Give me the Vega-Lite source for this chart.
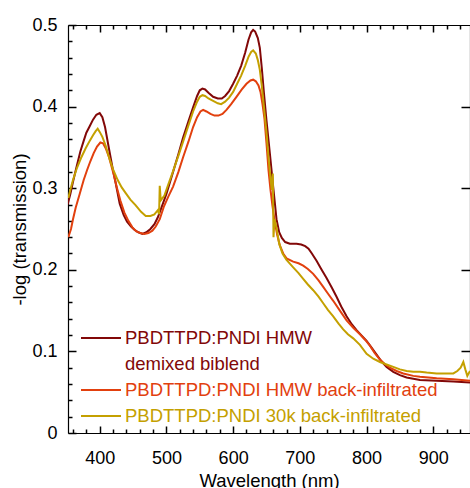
{
 "$schema": "https://vega.github.io/schema/vega-lite/v6.json",
 "width": 402, "height": 408,
 "autosize": {"type": "none"},
 "padding": {"left": 68, "top": 25, "right": 0, "bottom": 55},
 "config": {
  "font": "Liberation Sans",
  "view": {"stroke": null},
  "axis": {"domainColor": "black", "tickColor": "black", "labelColor": "black", "titleColor": "black", "grid": false, "labelOverlap": false, "labelFlush": false, "tickWidth": 1.5, "domainWidth": 1.2, "labelFontSize": 18, "titleFontSize": 18.5, "titleFontWeight": "normal", "labelFont": "Liberation Sans", "titleFont": "Liberation Sans"}
 },
 "datasets": {
  "spectra": [
   {"s":"PBDTTPD:PNDI HMW demixed biblend","wl":352,"a":0.280},{"s":"PBDTTPD:PNDI HMW demixed biblend","wl":356,"a":0.293},{"s":"PBDTTPD:PNDI HMW demixed biblend","wl":360,"a":0.308},{"s":"PBDTTPD:PNDI HMW demixed biblend","wl":365,"a":0.325},{"s":"PBDTTPD:PNDI HMW demixed biblend","wl":371,"a":0.345},{"s":"PBDTTPD:PNDI HMW demixed biblend","wl":376,"a":0.358},{"s":"PBDTTPD:PNDI HMW demixed biblend","wl":380,"a":0.368},{"s":"PBDTTPD:PNDI HMW demixed biblend","wl":385,"a":0.376},{"s":"PBDTTPD:PNDI HMW demixed biblend","wl":390,"a":0.384},{"s":"PBDTTPD:PNDI HMW demixed biblend","wl":395,"a":0.390},{"s":"PBDTTPD:PNDI HMW demixed biblend","wl":400,"a":0.392},{"s":"PBDTTPD:PNDI HMW demixed biblend","wl":404,"a":0.387},{"s":"PBDTTPD:PNDI HMW demixed biblend","wl":408,"a":0.375},{"s":"PBDTTPD:PNDI HMW demixed biblend","wl":414,"a":0.348},{"s":"PBDTTPD:PNDI HMW demixed biblend","wl":419,"a":0.326},{"s":"PBDTTPD:PNDI HMW demixed biblend","wl":424,"a":0.306},{"s":"PBDTTPD:PNDI HMW demixed biblend","wl":430,"a":0.281},{"s":"PBDTTPD:PNDI HMW demixed biblend","wl":436,"a":0.267},{"s":"PBDTTPD:PNDI HMW demixed biblend","wl":441,"a":0.259},{"s":"PBDTTPD:PNDI HMW demixed biblend","wl":447,"a":0.253},{"s":"PBDTTPD:PNDI HMW demixed biblend","wl":452,"a":0.249},{"s":"PBDTTPD:PNDI HMW demixed biblend","wl":458,"a":0.246},{"s":"PBDTTPD:PNDI HMW demixed biblend","wl":464,"a":0.244},{"s":"PBDTTPD:PNDI HMW demixed biblend","wl":470,"a":0.246},{"s":"PBDTTPD:PNDI HMW demixed biblend","wl":476,"a":0.250},{"s":"PBDTTPD:PNDI HMW demixed biblend","wl":482,"a":0.256},{"s":"PBDTTPD:PNDI HMW demixed biblend","wl":487,"a":0.264},{"s":"PBDTTPD:PNDI HMW demixed biblend","wl":492,"a":0.275},{"s":"PBDTTPD:PNDI HMW demixed biblend","wl":500,"a":0.293},{"s":"PBDTTPD:PNDI HMW demixed biblend","wl":510,"a":0.320},{"s":"PBDTTPD:PNDI HMW demixed biblend","wl":518,"a":0.342},{"s":"PBDTTPD:PNDI HMW demixed biblend","wl":525,"a":0.362},{"s":"PBDTTPD:PNDI HMW demixed biblend","wl":533,"a":0.382},{"s":"PBDTTPD:PNDI HMW demixed biblend","wl":540,"a":0.399},{"s":"PBDTTPD:PNDI HMW demixed biblend","wl":546,"a":0.413},{"s":"PBDTTPD:PNDI HMW demixed biblend","wl":550,"a":0.420},{"s":"PBDTTPD:PNDI HMW demixed biblend","wl":554,"a":0.422},{"s":"PBDTTPD:PNDI HMW demixed biblend","wl":558,"a":0.421},{"s":"PBDTTPD:PNDI HMW demixed biblend","wl":563,"a":0.417},{"s":"PBDTTPD:PNDI HMW demixed biblend","wl":570,"a":0.412},{"s":"PBDTTPD:PNDI HMW demixed biblend","wl":577,"a":0.410},{"s":"PBDTTPD:PNDI HMW demixed biblend","wl":583,"a":0.410},{"s":"PBDTTPD:PNDI HMW demixed biblend","wl":588,"a":0.413},{"s":"PBDTTPD:PNDI HMW demixed biblend","wl":594,"a":0.419},{"s":"PBDTTPD:PNDI HMW demixed biblend","wl":600,"a":0.428},{"s":"PBDTTPD:PNDI HMW demixed biblend","wl":606,"a":0.438},{"s":"PBDTTPD:PNDI HMW demixed biblend","wl":612,"a":0.450},{"s":"PBDTTPD:PNDI HMW demixed biblend","wl":618,"a":0.466},{"s":"PBDTTPD:PNDI HMW demixed biblend","wl":623,"a":0.482},{"s":"PBDTTPD:PNDI HMW demixed biblend","wl":627,"a":0.491},{"s":"PBDTTPD:PNDI HMW demixed biblend","wl":630,"a":0.494},{"s":"PBDTTPD:PNDI HMW demixed biblend","wl":633,"a":0.492},{"s":"PBDTTPD:PNDI HMW demixed biblend","wl":637,"a":0.484},{"s":"PBDTTPD:PNDI HMW demixed biblend","wl":640,"a":0.472},{"s":"PBDTTPD:PNDI HMW demixed biblend","wl":643,"a":0.447},{"s":"PBDTTPD:PNDI HMW demixed biblend","wl":646,"a":0.418},{"s":"PBDTTPD:PNDI HMW demixed biblend","wl":650,"a":0.383},{"s":"PBDTTPD:PNDI HMW demixed biblend","wl":655,"a":0.343},{"s":"PBDTTPD:PNDI HMW demixed biblend","wl":660,"a":0.302},{"s":"PBDTTPD:PNDI HMW demixed biblend","wl":665,"a":0.262},{"s":"PBDTTPD:PNDI HMW demixed biblend","wl":669,"a":0.246},{"s":"PBDTTPD:PNDI HMW demixed biblend","wl":673,"a":0.239},{"s":"PBDTTPD:PNDI HMW demixed biblend","wl":678,"a":0.234},{"s":"PBDTTPD:PNDI HMW demixed biblend","wl":685,"a":0.232},{"s":"PBDTTPD:PNDI HMW demixed biblend","wl":695,"a":0.232},{"s":"PBDTTPD:PNDI HMW demixed biblend","wl":702,"a":0.231},{"s":"PBDTTPD:PNDI HMW demixed biblend","wl":708,"a":0.229},{"s":"PBDTTPD:PNDI HMW demixed biblend","wl":713,"a":0.226},{"s":"PBDTTPD:PNDI HMW demixed biblend","wl":718,"a":0.220},{"s":"PBDTTPD:PNDI HMW demixed biblend","wl":725,"a":0.211},{"s":"PBDTTPD:PNDI HMW demixed biblend","wl":732,"a":0.201},{"s":"PBDTTPD:PNDI HMW demixed biblend","wl":740,"a":0.190},{"s":"PBDTTPD:PNDI HMW demixed biblend","wl":748,"a":0.178},{"s":"PBDTTPD:PNDI HMW demixed biblend","wl":755,"a":0.167},{"s":"PBDTTPD:PNDI HMW demixed biblend","wl":762,"a":0.155},{"s":"PBDTTPD:PNDI HMW demixed biblend","wl":770,"a":0.143},{"s":"PBDTTPD:PNDI HMW demixed biblend","wl":778,"a":0.133},{"s":"PBDTTPD:PNDI HMW demixed biblend","wl":785,"a":0.126},{"s":"PBDTTPD:PNDI HMW demixed biblend","wl":793,"a":0.119},{"s":"PBDTTPD:PNDI HMW demixed biblend","wl":800,"a":0.113},{"s":"PBDTTPD:PNDI HMW demixed biblend","wl":808,"a":0.104},{"s":"PBDTTPD:PNDI HMW demixed biblend","wl":815,"a":0.096},{"s":"PBDTTPD:PNDI HMW demixed biblend","wl":822,"a":0.088},{"s":"PBDTTPD:PNDI HMW demixed biblend","wl":830,"a":0.081},{"s":"PBDTTPD:PNDI HMW demixed biblend","wl":840,"a":0.075},{"s":"PBDTTPD:PNDI HMW demixed biblend","wl":850,"a":0.071},{"s":"PBDTTPD:PNDI HMW demixed biblend","wl":860,"a":0.068},{"s":"PBDTTPD:PNDI HMW demixed biblend","wl":880,"a":0.065},{"s":"PBDTTPD:PNDI HMW demixed biblend","wl":905,"a":0.064},{"s":"PBDTTPD:PNDI HMW demixed biblend","wl":930,"a":0.063},{"s":"PBDTTPD:PNDI HMW demixed biblend","wl":955,"a":0.062},
   {"s":"PBDTTPD:PNDI HMW back-infiltrated","wl":353,"a":0.240},{"s":"PBDTTPD:PNDI HMW back-infiltrated","wl":357,"a":0.250},{"s":"PBDTTPD:PNDI HMW back-infiltrated","wl":360,"a":0.262},{"s":"PBDTTPD:PNDI HMW back-infiltrated","wl":364,"a":0.276},{"s":"PBDTTPD:PNDI HMW back-infiltrated","wl":370,"a":0.293},{"s":"PBDTTPD:PNDI HMW back-infiltrated","wl":376,"a":0.310},{"s":"PBDTTPD:PNDI HMW back-infiltrated","wl":381,"a":0.322},{"s":"PBDTTPD:PNDI HMW back-infiltrated","wl":386,"a":0.333},{"s":"PBDTTPD:PNDI HMW back-infiltrated","wl":391,"a":0.343},{"s":"PBDTTPD:PNDI HMW back-infiltrated","wl":396,"a":0.351},{"s":"PBDTTPD:PNDI HMW back-infiltrated","wl":401,"a":0.356},{"s":"PBDTTPD:PNDI HMW back-infiltrated","wl":405,"a":0.355},{"s":"PBDTTPD:PNDI HMW back-infiltrated","wl":409,"a":0.349},{"s":"PBDTTPD:PNDI HMW back-infiltrated","wl":414,"a":0.338},{"s":"PBDTTPD:PNDI HMW back-infiltrated","wl":420,"a":0.320},{"s":"PBDTTPD:PNDI HMW back-infiltrated","wl":426,"a":0.300},{"s":"PBDTTPD:PNDI HMW back-infiltrated","wl":431,"a":0.285},{"s":"PBDTTPD:PNDI HMW back-infiltrated","wl":437,"a":0.270},{"s":"PBDTTPD:PNDI HMW back-infiltrated","wl":443,"a":0.260},{"s":"PBDTTPD:PNDI HMW back-infiltrated","wl":449,"a":0.252},{"s":"PBDTTPD:PNDI HMW back-infiltrated","wl":455,"a":0.247},{"s":"PBDTTPD:PNDI HMW back-infiltrated","wl":461,"a":0.245},{"s":"PBDTTPD:PNDI HMW back-infiltrated","wl":467,"a":0.244},{"s":"PBDTTPD:PNDI HMW back-infiltrated","wl":473,"a":0.245},{"s":"PBDTTPD:PNDI HMW back-infiltrated","wl":479,"a":0.248},{"s":"PBDTTPD:PNDI HMW back-infiltrated","wl":484,"a":0.253},{"s":"PBDTTPD:PNDI HMW back-infiltrated","wl":490,"a":0.262},{"s":"PBDTTPD:PNDI HMW back-infiltrated","wl":496,"a":0.277},{"s":"PBDTTPD:PNDI HMW back-infiltrated","wl":503,"a":0.290},{"s":"PBDTTPD:PNDI HMW back-infiltrated","wl":510,"a":0.302},{"s":"PBDTTPD:PNDI HMW back-infiltrated","wl":518,"a":0.320},{"s":"PBDTTPD:PNDI HMW back-infiltrated","wl":525,"a":0.338},{"s":"PBDTTPD:PNDI HMW back-infiltrated","wl":533,"a":0.357},{"s":"PBDTTPD:PNDI HMW back-infiltrated","wl":540,"a":0.375},{"s":"PBDTTPD:PNDI HMW back-infiltrated","wl":546,"a":0.387},{"s":"PBDTTPD:PNDI HMW back-infiltrated","wl":551,"a":0.394},{"s":"PBDTTPD:PNDI HMW back-infiltrated","wl":555,"a":0.396},{"s":"PBDTTPD:PNDI HMW back-infiltrated","wl":560,"a":0.394},{"s":"PBDTTPD:PNDI HMW back-infiltrated","wl":566,"a":0.391},{"s":"PBDTTPD:PNDI HMW back-infiltrated","wl":572,"a":0.389},{"s":"PBDTTPD:PNDI HMW back-infiltrated","wl":578,"a":0.389},{"s":"PBDTTPD:PNDI HMW back-infiltrated","wl":584,"a":0.391},{"s":"PBDTTPD:PNDI HMW back-infiltrated","wl":590,"a":0.396},{"s":"PBDTTPD:PNDI HMW back-infiltrated","wl":597,"a":0.403},{"s":"PBDTTPD:PNDI HMW back-infiltrated","wl":605,"a":0.412},{"s":"PBDTTPD:PNDI HMW back-infiltrated","wl":613,"a":0.421},{"s":"PBDTTPD:PNDI HMW back-infiltrated","wl":620,"a":0.428},{"s":"PBDTTPD:PNDI HMW back-infiltrated","wl":626,"a":0.432},{"s":"PBDTTPD:PNDI HMW back-infiltrated","wl":630,"a":0.433},{"s":"PBDTTPD:PNDI HMW back-infiltrated","wl":634,"a":0.431},{"s":"PBDTTPD:PNDI HMW back-infiltrated","wl":638,"a":0.426},{"s":"PBDTTPD:PNDI HMW back-infiltrated","wl":641,"a":0.418},{"s":"PBDTTPD:PNDI HMW back-infiltrated","wl":644,"a":0.403},{"s":"PBDTTPD:PNDI HMW back-infiltrated","wl":647,"a":0.385},{"s":"PBDTTPD:PNDI HMW back-infiltrated","wl":650,"a":0.355},{"s":"PBDTTPD:PNDI HMW back-infiltrated","wl":653,"a":0.322},{"s":"PBDTTPD:PNDI HMW back-infiltrated","wl":656,"a":0.298},{"s":"PBDTTPD:PNDI HMW back-infiltrated","wl":659,"a":0.278},{"s":"PBDTTPD:PNDI HMW back-infiltrated","wl":662,"a":0.261},{"s":"PBDTTPD:PNDI HMW back-infiltrated","wl":666,"a":0.243},{"s":"PBDTTPD:PNDI HMW back-infiltrated","wl":670,"a":0.230},{"s":"PBDTTPD:PNDI HMW back-infiltrated","wl":675,"a":0.220},{"s":"PBDTTPD:PNDI HMW back-infiltrated","wl":680,"a":0.214},{"s":"PBDTTPD:PNDI HMW back-infiltrated","wl":690,"a":0.210},{"s":"PBDTTPD:PNDI HMW back-infiltrated","wl":698,"a":0.208},{"s":"PBDTTPD:PNDI HMW back-infiltrated","wl":705,"a":0.205},{"s":"PBDTTPD:PNDI HMW back-infiltrated","wl":712,"a":0.201},{"s":"PBDTTPD:PNDI HMW back-infiltrated","wl":720,"a":0.195},{"s":"PBDTTPD:PNDI HMW back-infiltrated","wl":728,"a":0.187},{"s":"PBDTTPD:PNDI HMW back-infiltrated","wl":735,"a":0.179},{"s":"PBDTTPD:PNDI HMW back-infiltrated","wl":742,"a":0.171},{"s":"PBDTTPD:PNDI HMW back-infiltrated","wl":750,"a":0.162},{"s":"PBDTTPD:PNDI HMW back-infiltrated","wl":760,"a":0.150},{"s":"PBDTTPD:PNDI HMW back-infiltrated","wl":770,"a":0.138},{"s":"PBDTTPD:PNDI HMW back-infiltrated","wl":780,"a":0.129},{"s":"PBDTTPD:PNDI HMW back-infiltrated","wl":790,"a":0.121},{"s":"PBDTTPD:PNDI HMW back-infiltrated","wl":798,"a":0.114},{"s":"PBDTTPD:PNDI HMW back-infiltrated","wl":805,"a":0.107},{"s":"PBDTTPD:PNDI HMW back-infiltrated","wl":812,"a":0.098},{"s":"PBDTTPD:PNDI HMW back-infiltrated","wl":820,"a":0.090},{"s":"PBDTTPD:PNDI HMW back-infiltrated","wl":828,"a":0.084},{"s":"PBDTTPD:PNDI HMW back-infiltrated","wl":835,"a":0.080},{"s":"PBDTTPD:PNDI HMW back-infiltrated","wl":845,"a":0.076},{"s":"PBDTTPD:PNDI HMW back-infiltrated","wl":855,"a":0.073},{"s":"PBDTTPD:PNDI HMW back-infiltrated","wl":870,"a":0.070},{"s":"PBDTTPD:PNDI HMW back-infiltrated","wl":880,"a":0.069},{"s":"PBDTTPD:PNDI HMW back-infiltrated","wl":905,"a":0.067},{"s":"PBDTTPD:PNDI HMW back-infiltrated","wl":930,"a":0.066},{"s":"PBDTTPD:PNDI HMW back-infiltrated","wl":955,"a":0.064},
   {"s":"PBDTTPD:PNDI 30k back-infiltrated","wl":353,"a":0.288},{"s":"PBDTTPD:PNDI 30k back-infiltrated","wl":356,"a":0.298},{"s":"PBDTTPD:PNDI 30k back-infiltrated","wl":360,"a":0.310},{"s":"PBDTTPD:PNDI 30k back-infiltrated","wl":366,"a":0.325},{"s":"PBDTTPD:PNDI 30k back-infiltrated","wl":372,"a":0.337},{"s":"PBDTTPD:PNDI 30k back-infiltrated","wl":379,"a":0.349},{"s":"PBDTTPD:PNDI 30k back-infiltrated","wl":385,"a":0.358},{"s":"PBDTTPD:PNDI 30k back-infiltrated","wl":390,"a":0.365},{"s":"PBDTTPD:PNDI 30k back-infiltrated","wl":394,"a":0.370},{"s":"PBDTTPD:PNDI 30k back-infiltrated","wl":397,"a":0.373},{"s":"PBDTTPD:PNDI 30k back-infiltrated","wl":400,"a":0.369},{"s":"PBDTTPD:PNDI 30k back-infiltrated","wl":404,"a":0.363},{"s":"PBDTTPD:PNDI 30k back-infiltrated","wl":409,"a":0.352},{"s":"PBDTTPD:PNDI 30k back-infiltrated","wl":414,"a":0.338},{"s":"PBDTTPD:PNDI 30k back-infiltrated","wl":420,"a":0.323},{"s":"PBDTTPD:PNDI 30k back-infiltrated","wl":427,"a":0.310},{"s":"PBDTTPD:PNDI 30k back-infiltrated","wl":433,"a":0.301},{"s":"PBDTTPD:PNDI 30k back-infiltrated","wl":439,"a":0.294},{"s":"PBDTTPD:PNDI 30k back-infiltrated","wl":446,"a":0.286},{"s":"PBDTTPD:PNDI 30k back-infiltrated","wl":454,"a":0.279},{"s":"PBDTTPD:PNDI 30k back-infiltrated","wl":462,"a":0.271},{"s":"PBDTTPD:PNDI 30k back-infiltrated","wl":469,"a":0.266},{"s":"PBDTTPD:PNDI 30k back-infiltrated","wl":476,"a":0.266},{"s":"PBDTTPD:PNDI 30k back-infiltrated","wl":482,"a":0.268},{"s":"PBDTTPD:PNDI 30k back-infiltrated","wl":487,"a":0.273},{"s":"PBDTTPD:PNDI 30k back-infiltrated","wl":489,"a":0.268},{"s":"PBDTTPD:PNDI 30k back-infiltrated","wl":490,"a":0.303},{"s":"PBDTTPD:PNDI 30k back-infiltrated","wl":491.5,"a":0.285},{"s":"PBDTTPD:PNDI 30k back-infiltrated","wl":497,"a":0.291},{"s":"PBDTTPD:PNDI 30k back-infiltrated","wl":503,"a":0.305},{"s":"PBDTTPD:PNDI 30k back-infiltrated","wl":510,"a":0.321},{"s":"PBDTTPD:PNDI 30k back-infiltrated","wl":518,"a":0.340},{"s":"PBDTTPD:PNDI 30k back-infiltrated","wl":525,"a":0.357},{"s":"PBDTTPD:PNDI 30k back-infiltrated","wl":533,"a":0.377},{"s":"PBDTTPD:PNDI 30k back-infiltrated","wl":540,"a":0.394},{"s":"PBDTTPD:PNDI 30k back-infiltrated","wl":546,"a":0.406},{"s":"PBDTTPD:PNDI 30k back-infiltrated","wl":550,"a":0.412},{"s":"PBDTTPD:PNDI 30k back-infiltrated","wl":554,"a":0.414},{"s":"PBDTTPD:PNDI 30k back-infiltrated","wl":558,"a":0.413},{"s":"PBDTTPD:PNDI 30k back-infiltrated","wl":563,"a":0.410},{"s":"PBDTTPD:PNDI 30k back-infiltrated","wl":570,"a":0.407},{"s":"PBDTTPD:PNDI 30k back-infiltrated","wl":577,"a":0.404},{"s":"PBDTTPD:PNDI 30k back-infiltrated","wl":582,"a":0.403},{"s":"PBDTTPD:PNDI 30k back-infiltrated","wl":588,"a":0.406},{"s":"PBDTTPD:PNDI 30k back-infiltrated","wl":594,"a":0.411},{"s":"PBDTTPD:PNDI 30k back-infiltrated","wl":600,"a":0.418},{"s":"PBDTTPD:PNDI 30k back-infiltrated","wl":606,"a":0.428},{"s":"PBDTTPD:PNDI 30k back-infiltrated","wl":612,"a":0.438},{"s":"PBDTTPD:PNDI 30k back-infiltrated","wl":618,"a":0.450},{"s":"PBDTTPD:PNDI 30k back-infiltrated","wl":623,"a":0.461},{"s":"PBDTTPD:PNDI 30k back-infiltrated","wl":627,"a":0.467},{"s":"PBDTTPD:PNDI 30k back-infiltrated","wl":630,"a":0.469},{"s":"PBDTTPD:PNDI 30k back-infiltrated","wl":634,"a":0.465},{"s":"PBDTTPD:PNDI 30k back-infiltrated","wl":637,"a":0.457},{"s":"PBDTTPD:PNDI 30k back-infiltrated","wl":640,"a":0.445},{"s":"PBDTTPD:PNDI 30k back-infiltrated","wl":643,"a":0.425},{"s":"PBDTTPD:PNDI 30k back-infiltrated","wl":647,"a":0.393},{"s":"PBDTTPD:PNDI 30k back-infiltrated","wl":650,"a":0.368},{"s":"PBDTTPD:PNDI 30k back-infiltrated","wl":653,"a":0.338},{"s":"PBDTTPD:PNDI 30k back-infiltrated","wl":656,"a":0.312},{"s":"PBDTTPD:PNDI 30k back-infiltrated","wl":658,"a":0.298},{"s":"PBDTTPD:PNDI 30k back-infiltrated","wl":659.5,"a":0.318},{"s":"PBDTTPD:PNDI 30k back-infiltrated","wl":660.5,"a":0.240},{"s":"PBDTTPD:PNDI 30k back-infiltrated","wl":662,"a":0.262},{"s":"PBDTTPD:PNDI 30k back-infiltrated","wl":665,"a":0.252},{"s":"PBDTTPD:PNDI 30k back-infiltrated","wl":669,"a":0.232},{"s":"PBDTTPD:PNDI 30k back-infiltrated","wl":674,"a":0.220},{"s":"PBDTTPD:PNDI 30k back-infiltrated","wl":680,"a":0.212},{"s":"PBDTTPD:PNDI 30k back-infiltrated","wl":690,"a":0.203},{"s":"PBDTTPD:PNDI 30k back-infiltrated","wl":698,"a":0.196},{"s":"PBDTTPD:PNDI 30k back-infiltrated","wl":705,"a":0.189},{"s":"PBDTTPD:PNDI 30k back-infiltrated","wl":712,"a":0.182},{"s":"PBDTTPD:PNDI 30k back-infiltrated","wl":720,"a":0.175},{"s":"PBDTTPD:PNDI 30k back-infiltrated","wl":728,"a":0.167},{"s":"PBDTTPD:PNDI 30k back-infiltrated","wl":735,"a":0.159},{"s":"PBDTTPD:PNDI 30k back-infiltrated","wl":742,"a":0.151},{"s":"PBDTTPD:PNDI 30k back-infiltrated","wl":750,"a":0.143},{"s":"PBDTTPD:PNDI 30k back-infiltrated","wl":758,"a":0.134},{"s":"PBDTTPD:PNDI 30k back-infiltrated","wl":765,"a":0.127},{"s":"PBDTTPD:PNDI 30k back-infiltrated","wl":772,"a":0.121},{"s":"PBDTTPD:PNDI 30k back-infiltrated","wl":780,"a":0.116},{"s":"PBDTTPD:PNDI 30k back-infiltrated","wl":790,"a":0.108},{"s":"PBDTTPD:PNDI 30k back-infiltrated","wl":800,"a":0.097},{"s":"PBDTTPD:PNDI 30k back-infiltrated","wl":810,"a":0.091},{"s":"PBDTTPD:PNDI 30k back-infiltrated","wl":820,"a":0.087},{"s":"PBDTTPD:PNDI 30k back-infiltrated","wl":830,"a":0.084},{"s":"PBDTTPD:PNDI 30k back-infiltrated","wl":840,"a":0.081},{"s":"PBDTTPD:PNDI 30k back-infiltrated","wl":850,"a":0.078},{"s":"PBDTTPD:PNDI 30k back-infiltrated","wl":860,"a":0.076},{"s":"PBDTTPD:PNDI 30k back-infiltrated","wl":870,"a":0.075},{"s":"PBDTTPD:PNDI 30k back-infiltrated","wl":880,"a":0.075},{"s":"PBDTTPD:PNDI 30k back-infiltrated","wl":890,"a":0.074},{"s":"PBDTTPD:PNDI 30k back-infiltrated","wl":905,"a":0.073},{"s":"PBDTTPD:PNDI 30k back-infiltrated","wl":920,"a":0.073},{"s":"PBDTTPD:PNDI 30k back-infiltrated","wl":930,"a":0.073},{"s":"PBDTTPD:PNDI 30k back-infiltrated","wl":936,"a":0.076},{"s":"PBDTTPD:PNDI 30k back-infiltrated","wl":941,"a":0.080},{"s":"PBDTTPD:PNDI 30k back-infiltrated","wl":945,"a":0.087},{"s":"PBDTTPD:PNDI 30k back-infiltrated","wl":948,"a":0.078},{"s":"PBDTTPD:PNDI 30k back-infiltrated","wl":951,"a":0.070},{"s":"PBDTTPD:PNDI 30k back-infiltrated","wl":955,"a":0.076}
  ]
 },
 "data": {"name": "spectra"},
 "layer": [
  {
   "mark": {"type": "line", "strokeWidth": 2, "clip": true},
   "encoding": {
    "x": {"field": "wl", "type": "quantitative", "scale": {"domain": [352.5, 955], "nice": false, "zero": false},
     "axis": {"orient": "bottom", "title": "Wavelength (nm)", "values": [360,380,400,420,440,460,480,500,520,540,560,580,600,620,640,660,680,700,720,740,760,780,800,820,840,860,880,900,920,940],
      "labelExpr": "datum.value % 100 === 0 ? format(datum.value, 'd') : ''",
      "tickSize": {"condition": {"test": "datum.value % 100 === 0", "value": -7}, "value": -4},
      "labelPadding": 23, "titlePadding": 1}},
    "y": {"field": "a", "type": "quantitative", "scale": {"domain": [0, 0.5], "nice": false, "zero": false},
     "axis": {"orient": "left", "title": "-log (transmission)", "values": [0,0.02,0.04,0.06,0.08,0.1,0.12,0.14,0.16,0.18,0.2,0.22,0.24,0.26,0.28,0.3,0.32,0.34,0.36,0.38,0.4,0.42,0.44,0.46,0.48,0.5],
      "labelExpr": "abs(datum.value*10 - round(datum.value*10)) < 0.001 ? format(datum.value, '~g') : ''",
      "tickSize": {"condition": {"test": "abs(datum.value*10 - round(datum.value*10)) < 0.001", "value": -8}, "value": -4},
      "labelPadding": 19, "titlePadding": 2}},
    "color": {"field": "s", "type": "nominal",
     "scale": {"domain": ["PBDTTPD:PNDI HMW demixed biblend", "demixed biblend", "PBDTTPD:PNDI HMW back-infiltrated", "PBDTTPD:PNDI 30k back-infiltrated"], "range": ["#820808", "#820808", "#e2400e", "#c4a000"]},
     "legend": {"orient": "none", "legendX": 12, "legendY": 301, "title": null, "padding": 0, "rowPadding": 2, "clipHeight": 24,
      "symbolType": "stroke", "symbolSize": 1600, "symbolStrokeWidth": 2,
      "symbolOpacity": {"expr": "datum.value == 'demixed biblend' ? 0 : 1"},
      "labelFontSize": 18.5, "labelFont": "Liberation Sans", "labelOffset": 3, "labelLimit": 400,
      "labelColor": {"expr": "scale('color', datum.value)"},
      "labelExpr": "datum.value == 'PBDTTPD:PNDI HMW demixed biblend' ? 'PBDTTPD:PNDI HMW' : datum.label"}}
   }
  },
  {
   "mark": {"type": "line", "opacity": 0},
   "encoding": {
    "x": {"field": "wl", "type": "quantitative",
     "axis": {"orient": "top", "title": null, "labels": false, "values": [360,380,400,420,440,460,480,500,520,540,560,580,600,620,640,660,680,700,720,740,760,780,800,820,840,860,880,900,920,940],
      "tickSize": {"condition": {"test": "datum.value % 100 === 0", "value": -7}, "value": -4}}},
    "y": {"field": "a", "type": "quantitative",
     "axis": {"orient": "right", "title": null, "labels": false, "values": [0.1,0.2,0.3,0.4], "tickSize": -9}}
   }
  }
 ],
 "resolve": {"axis": {"x": "independent", "y": "independent"}}
}
